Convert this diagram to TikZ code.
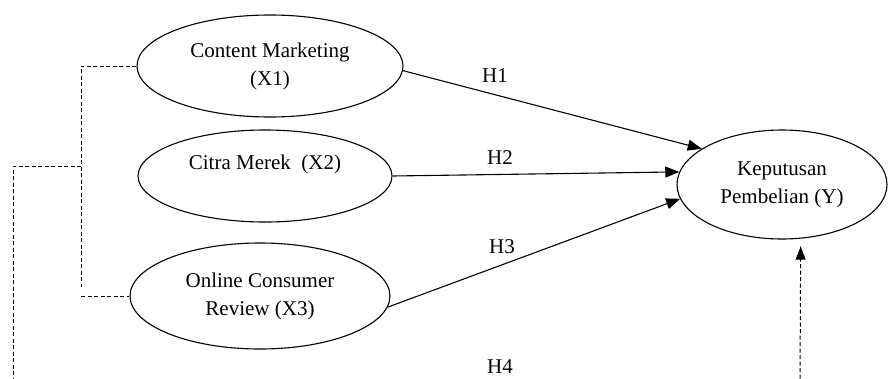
\documentclass[tikz,border=0pt]{standalone}
\usepackage{fontspec}
\setmainfont{Liberation Serif}
\usetikzlibrary{shapes.geometric,arrows.meta}
\begin{document}
\begin{tikzpicture}[x=1pt,y=-1pt,
  var/.style={draw,ellipse,line width=1.1pt,inner sep=0pt,align=center,
    font=\fontsize{21}{28}\selectfont},
  path/.style={line width=1.1pt,-{Triangle[length=14pt,width=11pt]}},
  dline/.style={line width=1pt,dash pattern=on 4pt off 2.5pt},
  hlab/.style={font=\fontsize{21}{24}\selectfont}]
\useasboundingbox (0,0) rectangle (889,378);
\clip (0,0) rectangle (889,378);
\node[var,minimum width=266pt,minimum height=102pt] (X1) at (270,66) {Content Marketing\\(X1)};
\node[var,minimum width=254pt,minimum height=92pt] (X2) at (265,176) {Citra Merek\ \ (X2)\\\mbox{}};
\node[var,minimum width=260pt,minimum height=106pt] (X3) at (260,296) {Online Consumer\\Review (X3)};
\node[var,minimum width=210pt,minimum height=109pt] (Y) at (782,184.5) {Keputusan\\Pembelian (Y)};
\draw[path] (X1.358) -- (Y.156);
\draw[path] (X2.east) -- (Y.173);
\draw[path] (X3.-5) -- (Y.188);
\node[hlab] (h1) at (495,76) {H1};
\node[hlab] (h2) at (500,158) {H2};
\node[hlab] (h3) at (502,247) {H3};
\node[hlab] (h4) at (500,367) {H4};
\coordinate (ca) at (81,66);
\coordinate (cb) at (81,287);
\coordinate (cc) at (81,166);
\coordinate (cd) at (13,166);
\coordinate (ce) at (13,385);
\coordinate (cf) at (81,296);
\coordinate (cg) at (800,385);
\draw[dline] (X1.west) -- (ca) -- (cb);
\draw[dline] (cc) -- (cd) -- (ce);
\draw[dline] (cf) -- (X3.west);
\draw[dline] (cg) -- ([yshift=-8pt]Y.-71.5);
\draw[line width=1.1pt,-{Triangle[length=13pt,width=10pt]}] ([yshift=-20pt]Y.-71.5) -- ([yshift=-8pt]Y.-71.5);
\end{tikzpicture}
\end{document}
